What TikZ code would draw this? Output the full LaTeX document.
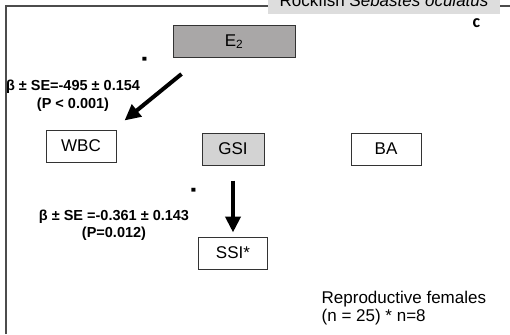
\documentclass[tikz,border=0pt]{standalone}
\usepackage{fontspec}
\setmainfont{Liberation Sans}
\newfontfamily\carlito{Carlito}
\usepackage{tikz}
\usetikzlibrary{arrows.meta,positioning}

\definecolor{etwofill}{RGB}{169,167,167}
\definecolor{gsifill}{RGB}{211,211,211}
\definecolor{titlefill}{RGB}{221,221,221}

\begin{document}
\begin{tikzpicture}[
        x=1pt, y=-1pt,
        every node/.style={inner sep=0pt, font=\fontsize{17}{18}\selectfont},
        var/.style={draw=black!80, line width=1pt, minimum height=32pt},
        arrow/.style={-{Triangle[length=16pt,width=15pt]}, line width=4pt},
        est/.style={align=center, font=\bfseries\fontsize{14.5}{17.5}\selectfont},
        sign/.style={font=\bfseries\fontsize{16}{17}\selectfont}
    ]
    \useasboundingbox (0,0) rectangle (510,334);

    % Frame and title
    \draw[black!70, line width=1.6pt] (6,334) -- (6,6) -- (510,6);
    \node[fill=titlefill, anchor=base, inner xsep=12pt, inner ysep=7.5pt] (title) at (384,6.5) {Rockfish \textit{Sebastes oculatus}};
    \node[font=\carlito\bfseries\fontsize{18}{18}\selectfont] (panel) at (476.5,23) {c};

    % Variables
    \node[var, fill=etwofill, minimum width=122pt] (e2) at (234,41.5) {E\textsubscript{2}};
    \node[var, minimum width=70pt] (wbc) at (81,146) {WBC};
    \node[var, fill=gsifill, minimum width=62pt] (gsi) at (233,149) {GSI};
    \node[var, minimum width=70pt, right=86pt of gsi.east, anchor=west] (ba) {BA};
    \node[var, minimum width=69pt, below=71pt of gsi] (ssi) {SSI*};

    % Estimates
    \node[sign] (minus1) at (144.5,62) {\scalebox{1}[2]{-}};
    \node[est] (est1) at (73,96) {β ± SE=-495 ± 0.154\\(P < 0.001)};
    \node[sign] (minus2) at (193.5,193) {\scalebox{1}[2]{-}};
    \node[est] (est2) at (114,225) {β ± SE =-0.361 ± 0.143\\(P=0.012)};

    % Arrows
    \draw[arrow] ([shift={(9,16)}]e2.south west) -- ([shift={(8,-9)}]wbc.north east);
    \draw[arrow, shorten <=15pt, shorten >=4pt] (gsi.south) -- (ssi.north);

    % Sample note
    \node[align=left, anchor=west] (note) at (321.5,308.5) {Reproductive females\\(n = 25) * n=8};
\end{tikzpicture}
\end{document}
